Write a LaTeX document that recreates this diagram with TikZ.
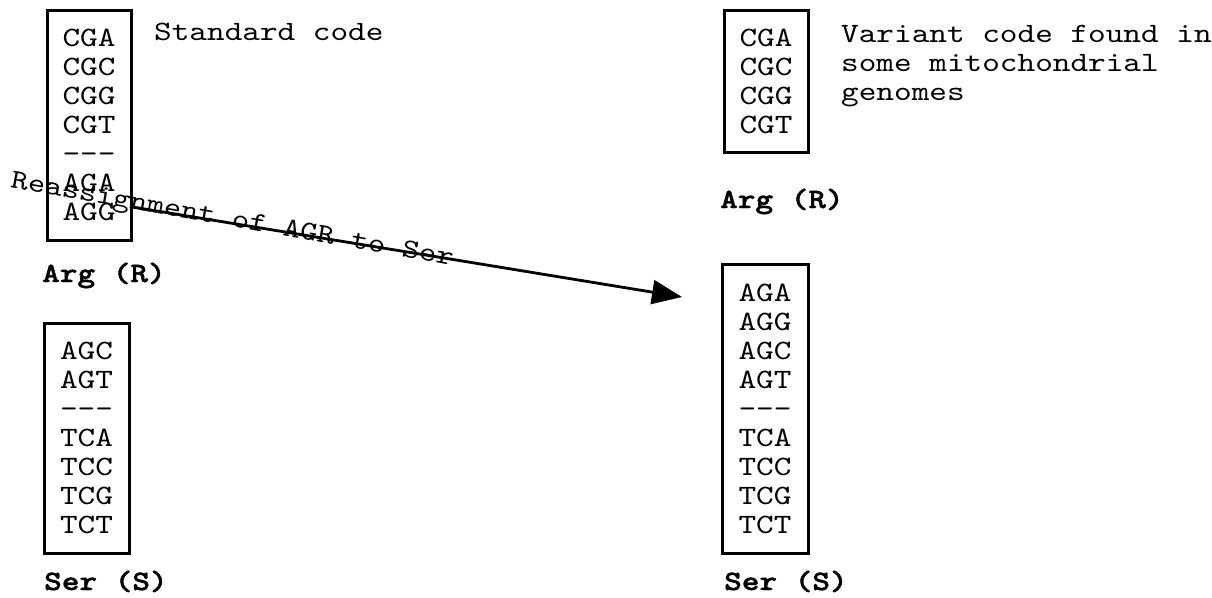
\documentclass[tikz,border=0pt]{standalone}
\usepackage{fontspec}
\newfontfamily\codefont{lmmono10-regular.otf}[
  BoldFont=lmmonolt10-bold.otf, BoldFeatures={FakeBold=1.5}, FakeStretch=1.2]
\usetikzlibrary{arrows.meta}
\tikzset{
  codon/.style={draw, line width=3pt, inner sep=0pt, align=center,
    font=\codefont\fontsize{28}{29}\selectfont},
  aminolabel/.style={anchor=base west, inner sep=0pt,
    font=\codefont\bfseries\fontsize{28}{29}\selectfont},
  note/.style={anchor=base west, inner sep=0pt, align=left,
    font=\codefont\fontsize{28}{29}\selectfont},
  reassign/.style={line width=2.8pt, -{Triangle[length=30pt,width=24pt]}}
}
\begin{document}
\begin{tikzpicture}[x=1pt, y=-1pt]
\useasboundingbox (0,0) rectangle (1212,597);

% standard code
\node[codon, minimum width=84pt, minimum height=230pt] (argstd) at (89,125)
  {CGA\\CGC\\CGG\\CGT\\-{}-{}-\\AGA\\AGG};
\node[aminolabel] (argstdlab) at (42,282) {Arg (R)};
\node[codon, minimum width=85pt, minimum height=230pt] (serstd) at (86.5,438)
  {AGC\\AGT\\-{}-{}-\\TCA\\TCC\\TCG\\TCT};
\node[aminolabel] (serstdlab) at (44,590) {Ser (S)};
\node[note] (stdnote) at (154,40) {Standard code};

% variant code
\node[codon, minimum width=84pt, minimum height=142pt] (argvar) at (766,81)
  {CGA\\CGC\\CGG\\CGT};
\node[aminolabel] (argvarlab) at (720,208) {Arg (R)};
\node[codon, minimum width=86pt, minimum height=289pt] (servar) at (765,408.5)
  {AGA\\AGG\\AGC\\AGT\\-{}-{}-\\TCA\\TCC\\TCG\\TCT};
\node[aminolabel] (servarlab) at (724,590) {Ser (S)};
% a multi-line node's base anchor sits on its last line
\node[note] (varnote) at (841,100)
  {Variant code found in\\some mitochondrial\\genomes};

% reassignment arrow
\coordinate (tip) at (682,297);
\draw[reassign] ([yshift=-82pt]argstd.east) -- (tip);
\node[note, rotate=-10.1, font=\codefont\fontsize{27.4}{29}\selectfont]
  (reasslab) at (10,187) {Reassignment of AGR to Ser};
\end{tikzpicture}
\end{document}
